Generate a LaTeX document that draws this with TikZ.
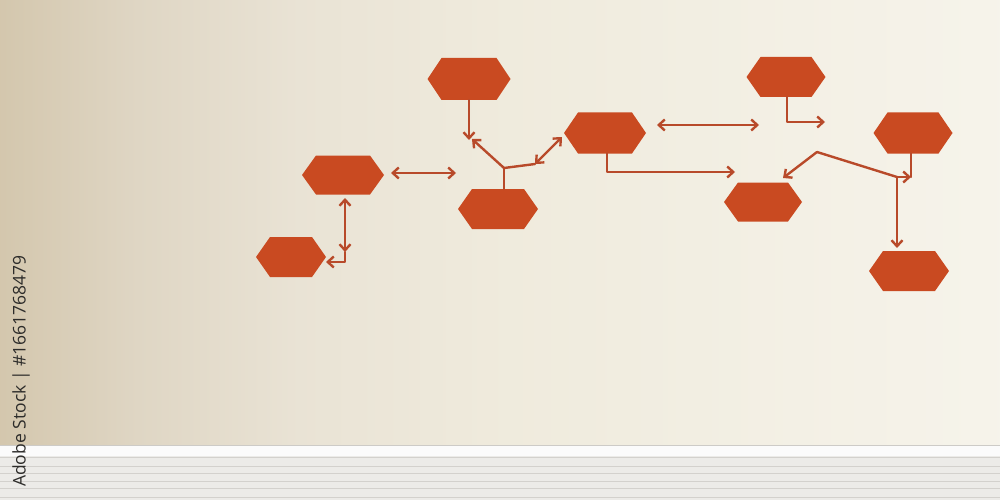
\documentclass[tikz,border=0pt]{standalone}
\usepackage{fontspec}
\setsansfont{Open Sans}
\usetikzlibrary{arrows.meta,calc}
\definecolor{hexcol}{RGB}{201,74,33}
\definecolor{arrcol}{RGB}{184,74,42}
\definecolor{floorcol}{RGB}{236,235,232}
\definecolor{floorline}{RGB}{205,203,199}
\definecolor{wmtext}{RGB}{45,44,42}
\pgfdeclarehorizontalshading{wallshade}{100bp}{
  rgb(0bp)=(0.830,0.780,0.680);
  rgb(25bp)=(0.830,0.780,0.680);
  rgb(32bp)=(0.875,0.840,0.770);
  rgb(40bp)=(0.915,0.890,0.835);
  rgb(50bp)=(0.938,0.920,0.865);
  rgb(75bp)=(0.965,0.955,0.920);
  rgb(100bp)=(0.965,0.955,0.920)}
\begin{document}
\begin{tikzpicture}[x=1pt,y=-1pt,
  hex/.style={inner sep=0pt, outer sep=0pt,
    path picture={\fill[hexcol] (path picture bounding box.west)
      -- ([xshift=14pt]path picture bounding box.north west)
      -- ([xshift=-14pt]path picture bounding box.north east)
      -- (path picture bounding box.east)
      -- ([xshift=-14pt]path picture bounding box.south east)
      -- ([xshift=14pt]path picture bounding box.south west) -- cycle;}},
  arr/.style={draw=arrcol, line width=2.4pt, line cap=round, line join=round},
  >={Straight Barb[length=6pt,width=11pt]}]
\useasboundingbox (0,0) rectangle (1000,500);
% wall
\shade[shading=wallshade] (0,0) rectangle (1000,446);
% floor
\fill[floorcol] (0,445) rectangle (1000,500);
\fill[white!97!gray] (0,446) rectangle (1000,456);
\draw[floorline, line width=0.8pt] (0,445.5) -- (1000,445.5);
\foreach \yy in {457,466,473,481,488,497}{
  \draw[floorline, line width=0.6pt, opacity=0.8] (0,\yy) -- (1000,\yy);
}
% vertical text
\node[rotate=90, anchor=west, inner sep=0pt, text=wmtext,
  font=\sffamily\fontsize{17.5}{17.5}\selectfont] (wm) at (21,487) {Adobe Stock | \#1661768479};
% hexagons
\node[hex, minimum width=82, minimum height=39] (h1) at (343,175) {};
\node[hex, minimum width=70, minimum height=40] (h2) at (291,257) {};
\node[hex, minimum width=83, minimum height=42] (h3) at (469,79) {};
\node[hex, minimum width=80, minimum height=40] (h4) at (498,209) {};
\node[hex, minimum width=82, minimum height=41] (h5) at (605,133) {};
\node[hex, minimum width=79, minimum height=40] (h6) at (786,77) {};
\node[hex, minimum width=78, minimum height=39] (h7) at (763,202) {};
\node[hex, minimum width=79, minimum height=41] (h8) at (913,133) {};
\node[hex, minimum width=80, minimum height=40] (h9) at (909,271) {};
% junction coordinates
\coordinate (c1) at (345,252);
\coordinate (c2) at (345,262);
\coordinate (c3) at (456,173);
\coordinate (c4) at (469,140);
\coordinate (c5) at (472,139);
\coordinate (j) at (504,168);
\coordinate (c6) at (535,164);
\coordinate (c7) at (607,172);
\coordinate (c8) at (735,172);
\coordinate (c9) at (759,125);
\coordinate (c10) at (787,122);
\coordinate (c11) at (825,122);
\coordinate (c12) at (817,152);
\coordinate (c13) at (897,177);
\coordinate (c14) at (897,248);
\coordinate (c15) at (911,177);
% connectors
\draw[arr,<->] ([shift={(2,3.5)}]h1.south) -- (c1);
\draw[arr,->] (c1) -- (c2) -- (h2.east |- c2);
\draw[arr,<->] ([shift={(7,-2)}]h1.east) -- (c3);
\draw[arr,->] (h3.south) -- (c4);
\draw[arr,->] (j) -- (c5);
\draw[arr] (j) -- (j |- h4.north);
\draw[arr] (j) -- (c6);
\draw[arr,<->] (c6) -- ([shift={(-2,4)}]h5.west);
\draw[arr,->] ([shift={(2,0)}]h5.south) -- (c7) -- (c8);
\draw[arr,<->] ([shift={(11,-8)}]h5.east) -- (c9);
\draw[arr,->] ([shift={(1,0)}]h6.south) -- (c10) -- (c11);
\draw[arr,->] (c12) -- ([shift={(20,-4.5)}]h7.north);
\draw[arr] (c12) -- (c13);
\draw[arr,->] (c13) -- (c14);
\draw[arr] ([shift={(-2,0)}]h8.south) -- (c15);
\draw[arr,->] (c13) -- (c15);
\end{tikzpicture}
\end{document}
